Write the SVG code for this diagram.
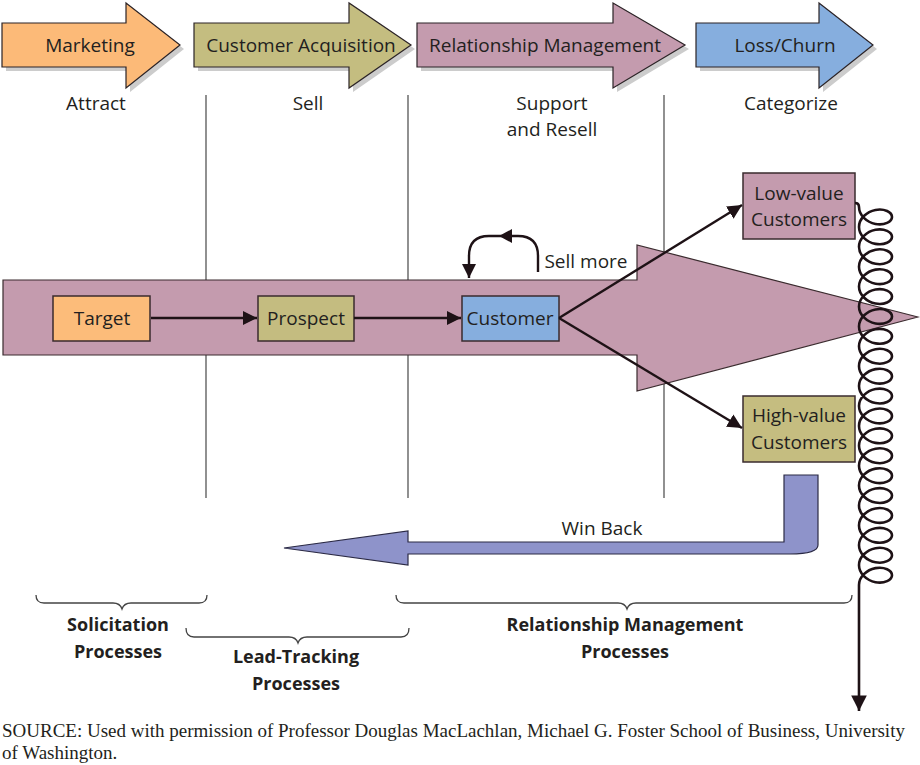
<svg xmlns="http://www.w3.org/2000/svg" width="920" height="765" viewBox="0 0 920 765">
<defs>
<style>
.t{font-family:"Open Sans","Liberation Sans",sans-serif;font-size:19px;fill:#231f20;text-anchor:middle}
.b{font-family:"Open Sans","Liberation Sans",sans-serif;font-size:18px;font-weight:bold;fill:#231f20;text-anchor:middle}
.src{font-family:"Liberation Serif","Times New Roman",serif;font-size:19px;fill:#231f20}
.sh{fill:#cccccc}
.ar{stroke:#2b2326;stroke-width:1.2}
.box{stroke:#3a2b2e;stroke-width:1.5}
.vl{stroke:#555;stroke-width:1.3;fill:none}
.con{stroke:#1e1216;stroke-width:2.4;fill:none}
.coil{stroke:#1e1216;stroke-width:2.6;fill:none}
.br{stroke:#444;stroke-width:1.3;fill:none}
</style>
<marker id="ah" viewBox="0 0 10 10" refX="10" refY="5" markerWidth="6" markerHeight="6" orient="auto" markerUnits="strokeWidth">
<path d="M0,0 L10,5 L0,10 z" fill="#1e1216"/>
</marker>
</defs>
<rect width="920" height="765" fill="#fff"/>

<!-- top phase arrows -->
<g id="phase-marketing">
<polygon class="sh" points="6,27 130,27 130,7 184,49 130,92 130,71 6,71"/>
<polygon class="ar" fill="#fcba78" points="2,23 126,23 126,3 180,45 126,88 126,67 2,67"/>
<text class="t" x="90" y="52">Marketing</text>
</g>
<g id="phase-acquisition">
<polygon class="sh" points="198,27 353,27 353,7 415,49 353,92 353,71 198,71"/>
<polygon class="ar" fill="#c4bd80" points="194,23 349,23 349,3 411,45 349,88 349,67 194,67"/>
<text class="t" x="301" y="52">Customer Acquisition</text>
</g>
<g id="phase-relationship">
<polygon class="sh" points="421,27 617,27 617,7 689,49 617,92 617,71 421,71"/>
<polygon class="ar" fill="#c49bae" points="417,23 613,23 613,3 685,45 613,88 613,67 417,67"/>
<text class="t" x="545" y="52">Relationship Management</text>
</g>
<g id="phase-loss">
<polygon class="sh" points="700,27 823,27 823,7 877,49 823,92 823,71 700,71"/>
<polygon class="ar" fill="#86aede" points="696,23 819,23 819,3 873,45 819,88 819,67 696,67"/>
<text class="t" x="785" y="52">Loss/Churn</text>
</g>

<g id="phase-labels">
<text class="t" x="96" y="110">Attract</text>
<text class="t" x="308" y="110">Sell</text>
<text class="t" x="552" y="110">Support</text>
<text class="t" x="552" y="136">and Resell</text>
<text class="t" x="791" y="110">Categorize</text>
</g>

<g id="dividers">
<line class="vl" x1="206" y1="95" x2="206" y2="498"/>
<line class="vl" x1="408" y1="95" x2="408" y2="498"/>
<line class="vl" x1="664" y1="95" x2="664" y2="498"/>
</g>

<g id="main-arrow">
<polygon fill="#c49bae" stroke="#3a2b2e" stroke-width="1.2" points="3,280 637,280 637,245 918,317 637,391 637,355 3,355"/>
</g>

<g id="target">
<rect class="box" x="53" y="296" width="97" height="45" fill="#fcbc7a"/>
<text class="t" x="102" y="325">Target</text>
</g>
<g id="prospect">
<rect class="box" x="258" y="296" width="96" height="45" fill="#c4bc80"/>
<text class="t" x="306" y="325">Prospect</text>
</g>
<g id="customer">
<rect class="box" x="462" y="296" width="97" height="45" fill="#86aede"/>
<text class="t" x="510" y="325">Customer</text>
</g>
<g id="low-value">
<rect class="box" x="743" y="173" width="112" height="66" fill="#c49bae"/>
<text class="t" x="799" y="200">Low-value</text>
<text class="t" x="799" y="226">Customers</text>
</g>
<g id="high-value">
<rect class="box" x="743" y="396" width="112" height="66" fill="#c5bd80"/>
<text class="t" x="799" y="422">High-value</text>
<text class="t" x="799" y="449">Customers</text>
</g>

<g id="win-back">
<path fill="#8e93ca" stroke="#2b2a45" stroke-width="1.2" d="M284,548 L408,531 L408,542 L784,542 L784,475 L818,475 L818,545 Q818,554 790,554 L408,554 L408,565 Z"/>
<text class="t" x="602" y="535">Win Back</text>
</g>

<g id="connectors">
<line class="con" x1="151" y1="318" x2="257" y2="318" marker-end="url(#ah)"/>
<line class="con" x1="354" y1="318" x2="461" y2="318" marker-end="url(#ah)"/>
<line class="con" x1="559" y1="318" x2="742" y2="205" marker-end="url(#ah)"/>
<line class="con" x1="559" y1="318" x2="742" y2="428" marker-end="url(#ah)"/>
<path class="con" d="M538,272 L538,256 Q538,236 518,236 L489,236 Q469,236 469,256 L469,278" marker-end="url(#ah)"/>
<polygon points="499,236 512,229 512,243" fill="#1e1216"/>
<text class="t" x="586" y="268">Sell more</text>
<path class="coil" d="M855,203 Q859,203 859,207 c0,8.19 7.59,15.26 16.5,16.97 c8.91,1.71 16.5,-2.25 16.5,-7.02 c0,-4.77 -7.59,-8.74 -16.5,-7.03 c-8.91,1.71 -16.5,8.79 -16.5,16.98 c0,8.19 7.59,15.26 16.5,16.97 c8.91,1.71 16.5,-2.25 16.5,-7.02 c0,-4.77 -7.59,-8.74 -16.5,-7.03 c-8.91,1.71 -16.5,8.79 -16.5,16.98 c0,8.19 7.59,15.26 16.5,16.97 c8.91,1.71 16.5,-2.25 16.5,-7.02 c0,-4.77 -7.59,-8.74 -16.5,-7.03 c-8.91,1.71 -16.5,8.79 -16.5,16.98 c0,8.19 7.59,15.26 16.5,16.97 c8.91,1.71 16.5,-2.25 16.5,-7.02 c0,-4.77 -7.59,-8.74 -16.5,-7.03 c-8.91,1.71 -16.5,8.79 -16.5,16.98 c0,8.19 7.59,15.26 16.5,16.97 c8.91,1.71 16.5,-2.25 16.5,-7.02 c0,-4.77 -7.59,-8.74 -16.5,-7.03 c-8.91,1.71 -16.5,8.79 -16.5,16.98 c0,8.19 7.59,15.26 16.5,16.97 c8.91,1.71 16.5,-2.25 16.5,-7.02 c0,-4.77 -7.59,-8.74 -16.5,-7.03 c-8.91,1.71 -16.5,8.79 -16.5,16.98 c0,8.19 7.59,15.26 16.5,16.97 c8.91,1.71 16.5,-2.25 16.5,-7.02 c0,-4.77 -7.59,-8.74 -16.5,-7.03 c-8.91,1.71 -16.5,8.79 -16.5,16.98 c0,8.19 7.59,15.26 16.5,16.97 c8.91,1.71 16.5,-2.25 16.5,-7.02 c0,-4.77 -7.59,-8.74 -16.5,-7.03 c-8.91,1.71 -16.5,8.79 -16.5,16.98 c0,8.19 7.59,15.26 16.5,16.97 c8.91,1.71 16.5,-2.25 16.5,-7.02 c0,-4.77 -7.59,-8.74 -16.5,-7.03 c-8.91,1.71 -16.5,8.79 -16.5,16.98 c0,8.19 7.59,15.26 16.5,16.97 c8.91,1.71 16.5,-2.25 16.5,-7.02 c0,-4.77 -7.59,-8.74 -16.5,-7.03 c-8.91,1.71 -16.5,8.79 -16.5,16.98 c0,8.19 7.59,15.26 16.5,16.97 c8.91,1.71 16.5,-2.25 16.5,-7.02 c0,-4.77 -7.59,-8.74 -16.5,-7.03 c-8.91,1.71 -16.5,8.79 -16.5,16.98 c0,8.19 7.59,15.26 16.5,16.97 c8.91,1.71 16.5,-2.25 16.5,-7.02 c0,-4.77 -7.59,-8.74 -16.5,-7.03 c-8.91,1.71 -16.5,8.79 -16.5,16.98 c0,8.19 7.59,15.26 16.5,16.97 c8.91,1.71 16.5,-2.25 16.5,-7.02 c0,-4.77 -7.59,-8.74 -16.5,-7.03 c-8.91,1.71 -16.5,8.79 -16.5,16.98 c0,8.19 7.59,15.26 16.5,16.97 c8.91,1.71 16.5,-2.25 16.5,-7.02 c0,-4.77 -7.59,-8.74 -16.5,-7.03 c-8.91,1.71 -16.5,8.79 -16.5,16.98 c0,8.19 7.59,15.26 16.5,16.97 c8.91,1.71 16.5,-2.25 16.5,-7.02 c0,-4.77 -7.59,-8.74 -16.5,-7.03 c-8.91,1.71 -16.5,8.79 -16.5,16.98 c0,8.19 7.59,15.26 16.5,16.97 c8.91,1.71 16.5,-2.25 16.5,-7.02 c0,-4.77 -7.59,-8.74 -16.5,-7.03 c-8.91,1.71 -16.5,8.79 -16.5,16.98 c0,8.19 7.59,15.26 16.5,16.97 c8.91,1.71 16.5,-2.25 16.5,-7.02 c0,-4.77 -7.59,-8.74 -16.5,-7.03 c-8.91,1.71 -16.5,8.79 -16.5,16.98 c0,8.19 7.59,15.26 16.5,16.97 c8.91,1.71 16.5,-2.25 16.5,-7.02 c0,-4.77 -7.59,-8.74 -16.5,-7.03 c-8.91,1.71 -16.5,8.79 -16.5,16.98 c0,8.19 7.59,15.26 16.5,16.97 c8.91,1.71 16.5,-2.25 16.5,-7.02 c0,-4.77 -7.59,-8.74 -16.5,-7.03 c-8.91,1.71 -16.5,8.79 -16.5,16.98 L859,711" marker-end="url(#ah)"/>
</g>

<g id="braces">
<path class="br" d="M36,595 Q36,603 44,603 L113,603 Q120,603 122,609 Q124,603 131,603 L199,603 Q207,603 207,595"/>
<path class="br" d="M186,628 Q186,637 194,637 L289,637 Q296,637 298,643 Q300,637 307,637 L401,637 Q409,637 409,628"/>
<path class="br" d="M396,595 Q396,603 404,603 L618,603 Q625,603 627,609 Q629,603 636,603 L844,603 Q852,603 852,595"/>
</g>

<g id="process-labels">
<text class="b" x="118" y="631">Solicitation</text>
<text class="b" x="118" y="658">Processes</text>
<text class="b" x="296" y="663">Lead-Tracking</text>
<text class="b" x="296" y="690">Processes</text>
<text class="b" x="625" y="631">Relationship Management</text>
<text class="b" x="625" y="658">Processes</text>
</g>

<g id="source">
<text class="src" x="2" y="737">SOURCE: Used with permission of Professor Douglas MacLachlan, Michael G. Foster School of Business, University</text>
<text class="src" x="2" y="759">of Washington.</text>
</g>
</svg>
